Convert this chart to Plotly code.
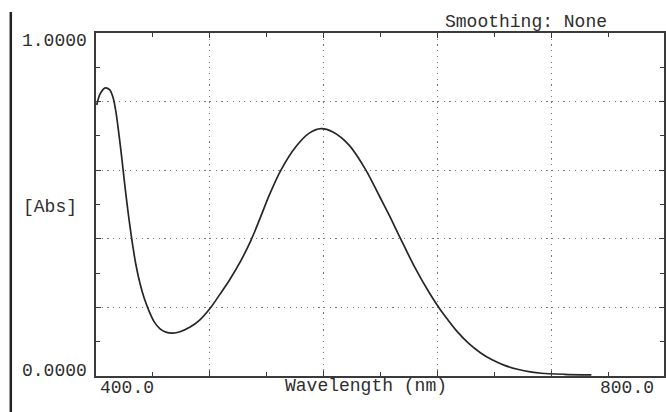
import plotly.graph_objects as go

# Spectrum
wavelength_nm = [400.5, 402.8, 406.5, 409.5, 412.0, 414.0, 416.0, 418.0, 420.0, 422.0,
                 424.0, 426.0, 428.0, 431.0, 434.0, 437.8, 441.0, 444.8, 449.0, 453.9,
                 459.0, 465.8, 472.8, 481.0, 487.0, 493.8, 502.0, 509.0, 514.8, 521.8,
                 530.0, 540.5, 549.8, 558.0, 566.1, 577.8, 589.5, 598.8, 607.0, 614.0,
                 623.3, 633.8, 640.8, 645.5, 653.0, 661.8, 670.0, 677.9, 687.0, 696.8,
                 705.0, 712.9, 729.0, 748.0]
absorbance = [0.790, 0.822, 0.840, 0.835, 0.812, 0.770, 0.708, 0.640, 0.565, 0.495,
              0.432, 0.375, 0.325, 0.268, 0.225, 0.184, 0.157, 0.138, 0.128, 0.125,
              0.129, 0.142, 0.163, 0.202, 0.238, 0.280, 0.338, 0.397, 0.455, 0.528,
              0.601, 0.669, 0.708, 0.721, 0.712, 0.673, 0.601, 0.527, 0.460, 0.400,
              0.322, 0.245, 0.200, 0.173, 0.133, 0.095, 0.068, 0.048, 0.031, 0.019,
              0.012, 0.008, 0.005, 0.003]

x_tick_labels = ["400.0", "800.0"]
y_tick_labels = ["0.0000", "1.0000"]
x_title = "Wavelength (nm)"
y_title = "[Abs]"
header = "Smoothing: None"

W, H = 666, 412
L, R, T, B = 96, 0, 33, 36
pw, ph = W - L - R, H - T - B

def px(x):
    return (x - L) / pw

def py(y):
    return (H - B - y) / ph

FONT = "Liberation Mono"
TXT = "#2e2e2e"

fig = go.Figure()
fig.add_trace(go.Scatter(x=wavelength_nm, y=absorbance, mode="lines",
                         line=dict(color="#262626", width=1.7, shape="spline", smoothing=0.8),
                         hoverinfo="skip", showlegend=False))

axis_common = dict(showline=True, linecolor="#3a3a3a", linewidth=1.6, mirror="ticks",
                   ticks="inside", ticklen=5, tickcolor="#3a3a3a", tickwidth=1.2,
                   showgrid=True, gridcolor="#7a7a7a", gridwidth=1.2, griddash="1.2px,4.5px",
                   zeroline=False, showticklabels=False)

fig.update_xaxes(range=[400, 799], tick0=400, dtick=80,
                 minor=dict(ticks="inside", ticklen=4, dtick=40, tick0=400,
                            tickcolor="#3a3a3a", showgrid=False),
                 **axis_common)
fig.update_yaxes(range=[0, 1], tick0=0, dtick=0.2,
                 minor=dict(ticks="inside", ticklen=4, dtick=0.1, tick0=0,
                            tickcolor="#3a3a3a", showgrid=False),
                 **axis_common)

ann = []
f = dict(family=FONT, size=18, color=TXT)
ann.append(dict(text=y_tick_labels[1], x=px(89), y=py(41), xanchor="right", yanchor="middle"))
ann.append(dict(text=y_tick_labels[0], x=px(89), y=py(371), xanchor="right", yanchor="middle"))
ann.append(dict(text=y_title, x=px(50), y=py(207), xanchor="center", yanchor="middle"))
ann.append(dict(text=x_tick_labels[0], x=px(127), y=py(388), xanchor="center", yanchor="middle"))
ann.append(dict(text=x_tick_labels[1], x=px(629), y=py(388), xanchor="center", yanchor="middle"))
ann.append(dict(text=x_title, x=px(367), y=py(386), xanchor="center", yanchor="middle"))
ann.append(dict(text=header, x=px(528), y=py(22), xanchor="center", yanchor="middle"))
for a in ann:
    a.update(xref="paper", yref="paper", showarrow=False, font=f)

fig.update_layout(
    width=W, height=H,
    margin=dict(l=L, r=R, t=T, b=B),
    paper_bgcolor="white", plot_bgcolor="white",
    annotations=ann,
    shapes=[dict(type="line", xref="paper", yref="paper",
                 x0=px(10.5), x1=px(10.5), y0=py(12), y1=py(412),
                 line=dict(color="#222222", width=2.5))],
)

fig.write_html("out.html")
